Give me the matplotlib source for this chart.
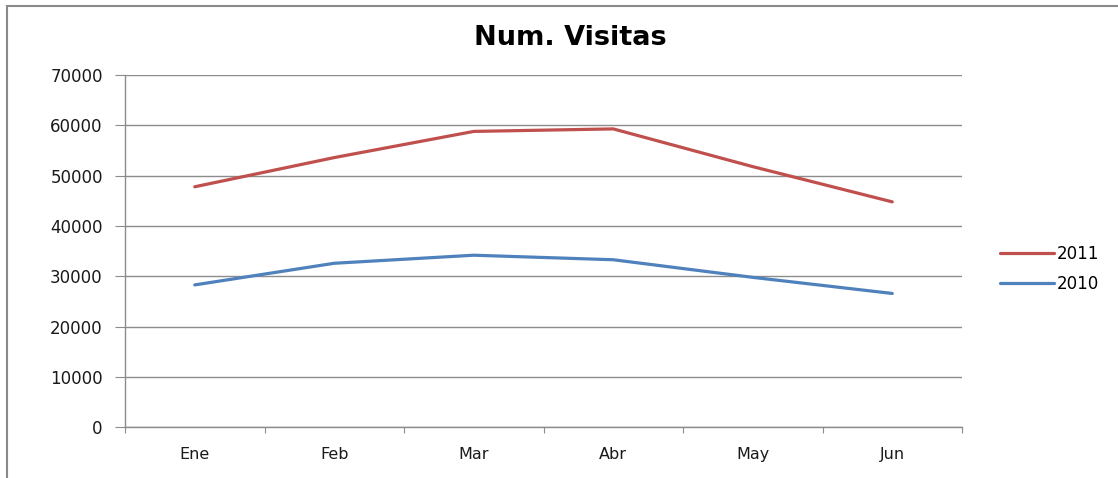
import matplotlib
matplotlib.use("Agg")
import matplotlib.pyplot as plt
from matplotlib.patches import Rectangle
from matplotlib.ticker import FixedLocator, NullFormatter

# =========================
# DATA
# =========================
MONTHS = ["Ene", "Feb", "Mar", "Abr", "May", "Jun"]
VISITS_2011 = [47800, 53600, 58800, 59300, 51800, 44800]
VISITS_2010 = [28300, 32600, 34200, 33300, 29800, 26600]

TITLE = "Num. Visitas"
COLOURS = {"2011": "#C0504D", "2010": "#4F81BD"}
GRID_GREY = "#8C8C8C"

plt.rcParams["font.family"] = ["DejaVu Sans"]

fig = plt.figure(figsize=(11.18, 4.78), dpi=100)
ax = fig.add_axes([0.1118, 0.106, 0.7487, 0.737])

x = list(range(len(MONTHS)))
ax.plot(x, VISITS_2011, color=COLOURS["2011"], lw=2.3, label="2011",
        solid_capstyle="round")
ax.plot(x, VISITS_2010, color=COLOURS["2010"], lw=2.3, label="2010",
        solid_capstyle="round")

ax.set_xlim(-0.5, len(MONTHS) - 0.5)
ax.set_ylim(0, 70000)
ax.set_yticks(range(0, 70001, 10000))
ax.yaxis.grid(True, color=GRID_GREY, lw=1.0)
ax.set_axisbelow(True)

# category boundaries as ticks, labels in the middle
ax.xaxis.set_major_locator(FixedLocator([i - 0.5 for i in range(len(MONTHS) + 1)]))
ax.xaxis.set_major_formatter(NullFormatter())
ax.xaxis.set_minor_locator(FixedLocator(x))
ax.set_xticklabels(MONTHS, minor=True)
ax.tick_params(axis="x", which="major", length=4, color=GRID_GREY, direction="out")
ax.tick_params(axis="x", which="minor", length=0, pad=14, labelsize=11.5, labelcolor="#1a1a1a")
ax.tick_params(axis="y", length=7, color=GRID_GREY, pad=9, labelsize=12, labelcolor="#1a1a1a")

for s in ["top", "right"]:
    ax.spines[s].set_visible(False)
for s in ["left", "bottom"]:
    ax.spines[s].set_color(GRID_GREY)
    ax.spines[s].set_linewidth(1.0)

fig.text(0.51, 0.92, TITLE, ha="center", va="center", fontsize=19.5, fontweight="bold")

ax.legend(loc="center left", bbox_to_anchor=(1.028, 0.45), frameon=False,
          handlelength=3.2, handletextpad=0.2, labelspacing=0.75, fontsize=12)

# outer chart border
fig.patches.append(Rectangle((7 / 1118, -0.05), 1.2, 1 - 6 / 478 + 0.05,
                             transform=fig.transFigure, fill=False,
                             edgecolor="#8a8a8a", lw=1.5))

fig.savefig("out.png", dpi=100)
